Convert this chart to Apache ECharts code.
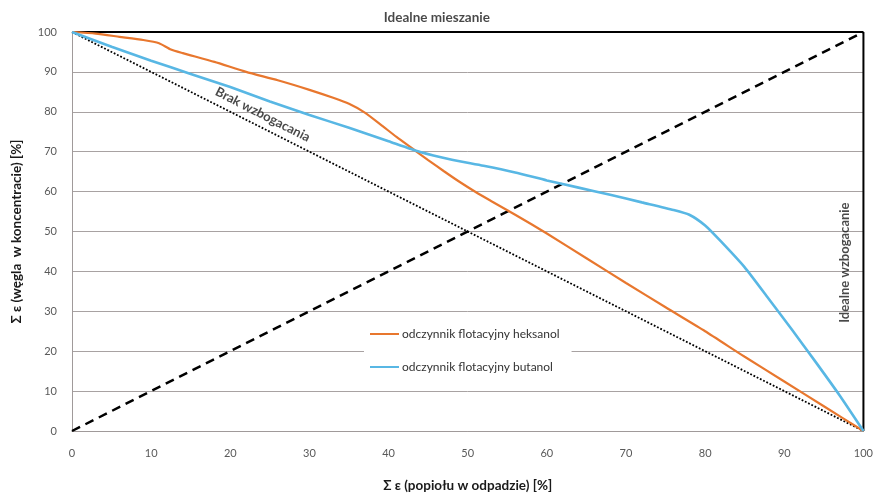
<!DOCTYPE html>
<html>
<head>
<meta charset="utf-8">
<script src="https://cdn.jsdelivr.net/npm/echarts@6/dist/echarts.min.js"></script>
<style>
  html, body { margin: 0; padding: 0; background: #ffffff; }
  #chart { width: 876px; height: 498px; }
</style>
</head>
<body>
<div id="chart"></div>
<script>
// Cumulative recovery curves: coal in concentrate vs ash in tailings
const xTicks = [0, 10, 20, 30, 40, 50, 60, 70, 80, 90, 100];

const heksanolX = [0, 3, 6, 9, 11, 12.5, 14, 18, 22, 26, 30, 33, 35, 37, 39, 41, 43, 45, 47, 49, 51, 53, 56, 60, 65, 70, 75, 80, 85, 90, 95, 100];
const heksanolY = [100, 99.6, 98.8, 98, 97.2, 95.6, 94.7, 92.5, 90, 87.9, 85.5, 83.5, 82, 79.8, 76.8, 73.7, 70.8, 67.9, 65.1, 62.4, 59.9, 57.6, 54.2, 49.5, 43.3, 37.1, 31, 25, 18.6, 12.4, 6.2, 0];

const butanolX = [0, 5, 10, 15, 20, 25, 30, 35, 40, 44, 48, 52, 56, 60, 64, 68, 72, 76, 78, 80, 82, 85, 88, 91, 94, 97, 100];
const butanolY = [100, 96.3, 92.8, 89.5, 86.2, 82.6, 79.2, 76, 72.6, 69.9, 68, 66.5, 64.8, 62.8, 61, 59.2, 57.3, 55.4, 54.2, 51.5, 47.5, 41, 33.2, 25.3, 17.2, 8.9, 0];

// Reference lines: ideal mixing (diagonal), no enrichment, ideal limits
const mixingLine = [[0, 0], [100, 100]];
const noEnrichLine = [[0, 100], [100, 0]];
const topLimit = [[0, 100], [100, 100]];
const rightLimit = [[100, 0], [100, 100]];

const seriesNames = ['odczynnik flotacyjny heksanol', 'odczynnik flotacyjny butanol'];
const xTitle = 'Σ ε (popiołu w odpadzie) [%]';
const yTitle = 'Σ ε (węgla  w koncentracie) [%]';

const FONT = 'Lato, "Open Sans", sans-serif';
const pair = (xs, ys) => xs.map((x, i) => [x, ys[i]]);

const chart = echarts.init(document.getElementById('chart'), null, { renderer: 'canvas' });

chart.setOption({
  animation: false,
  backgroundColor: '#ffffff',
  grid: { left: 72, right: 10, top: 32, bottom: 61 },
  legend: {
    data: seriesNames,
    orient: 'vertical',
    left: 364,
    top: 322,
    itemWidth: 29,
    itemHeight: 2,
    itemGap: 21,
    icon: 'rect',
    backgroundColor: '#ffffff',
    padding: [6, 12, 8, 6],
    textStyle: { fontFamily: FONT, fontSize: 12, color: '#333333', padding: [0, 0, 0, -2] }
  },
  xAxis: {
    type: 'value',
    min: 0,
    max: 100,
    interval: 10,
    name: xTitle,
    nameLocation: 'middle',
    nameGap: 48,
    nameTextStyle: { fontFamily: FONT, fontSize: 13.5, fontWeight: 'bold', color: '#1a1a1a' },
    axisLine: { show: true, lineStyle: { color: '#a09a9a', width: 1 } },
    axisTick: { show: false },
    axisLabel: { fontFamily: FONT, fontSize: 11, color: '#595959', margin: 17,
      formatter: v => (xTicks.includes(v) ? String(v) : '') },
    splitLine: { show: false }
  },
  yAxis: {
    type: 'value',
    min: 0,
    max: 100,
    interval: 10,
    name: yTitle,
    nameLocation: 'middle',
    nameGap: 48,
    nameTextStyle: { fontFamily: FONT, fontSize: 13.5, fontWeight: 'bold', color: '#1a1a1a' },
    axisLine: { show: true, lineStyle: { color: '#a09a9a', width: 1 } },
    axisTick: { show: false },
    axisLabel: { fontFamily: FONT, fontSize: 11, color: '#595959', margin: 15 },
    splitLine: { show: true, lineStyle: { color: '#a8a2a2', width: 1 } }
  },
  series: [
    {
      name: 'mixing',
      type: 'line',
      data: mixingLine,
      symbol: 'none',
      silent: true,
      lineStyle: { color: '#000000', width: 2.5, type: [9, 6] },
      z: 3
    },
    {
      name: 'noEnrich',
      type: 'line',
      data: noEnrichLine,
      symbol: 'none',
      silent: true,
      lineStyle: { color: '#000000', width: 1.8, type: [1.8, 1.8] },
      z: 3
    },
    {
      name: 'topLimit',
      type: 'line',
      data: topLimit,
      symbol: 'none',
      silent: true,
      lineStyle: { color: '#000000', width: 2 },
      z: 3
    },
    {
      name: 'rightLimit',
      type: 'line',
      data: rightLimit,
      symbol: 'none',
      silent: true,
      lineStyle: { color: '#000000', width: 2 },
      z: 3
    },
    {
      name: seriesNames[0],
      type: 'line',
      data: pair(heksanolX, heksanolY),
      symbol: 'none',
      smooth: 0.2,
      color: '#e8772e',
      lineStyle: { color: '#e8772e', width: 2.2 },
      z: 4
    },
    {
      name: seriesNames[1],
      type: 'line',
      data: pair(butanolX, butanolY),
      symbol: 'none',
      smooth: 0.2,
      color: '#58b7e4',
      lineStyle: { color: '#58b7e4', width: 2.6 },
      z: 4
    },
    {
      name: 'labels',
      type: 'scatter',
      symbolSize: 0,
      silent: true,
      z: 6,
      data: [
        { value: [46.1, 100], label: { show: true, formatter: 'Idealne mieszanie', position: 'top', distance: 7,
          fontFamily: FONT, fontSize: 13.5, fontWeight: 'bold', color: '#1a1a1a' } },
        { value: [24.1, 79.3], label: { show: true, formatter: 'Brak wzbogacania', position: 'inside', rotate: -27,
          fontFamily: FONT, fontSize: 13, fontWeight: 'bold', color: '#1a1a1a' } },
        { value: [97.7, 42.2], label: { show: true, formatter: 'Idealne wzbogacanie', position: 'inside', rotate: 90,
          fontFamily: FONT, fontSize: 13, fontWeight: 'bold', color: '#1a1a1a' } }
      ]
    }
  ]
});
</script>
</body>
</html>
